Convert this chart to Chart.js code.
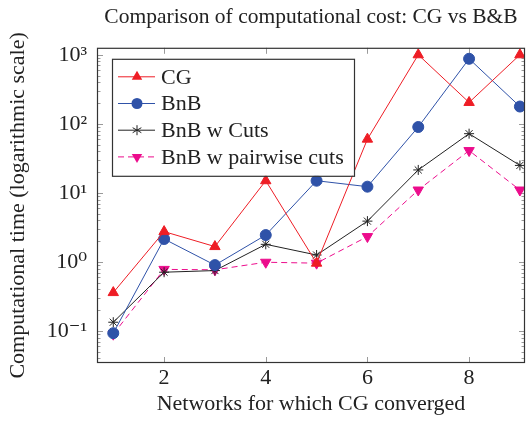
<!DOCTYPE html>
<html><head><meta charset="utf-8">
<script src="https://cdn.jsdelivr.net/npm/chart.js@4/dist/chart.umd.min.js"></script>
<style>html,body{margin:0;padding:0;background:#fff;overflow:hidden}</style>
</head><body>
<canvas id="c" width="532" height="424"></canvas>
<script>
const networks = [1, 2, 3, 4, 5, 6, 7, 8, 9];
const cg = [0.36, 2.75, 1.67, 15, 0.96, 60, 1000, 204, 1000];
const bnb = [0.093, 2.15, 0.9, 2.45, 15, 12.3, 90, 875, 178];
const bnbCuts = [0.134, 0.71, 0.75, 1.8, 1.26, 3.9, 21.5, 72, 25];
const bnbPairwise = [0.09, 0.78, 0.77, 0.99, 0.96, 2.33, 11, 41, 11];
const xTicks = [2, 4, 6, 8];
const yDecades = [-1, 0, 1, 2, 3];
const yTickLabels = {'-1': '10\u207B\u00B9', '0': '10\u2070', '1': '10\u00B9', '2': '10\u00B2', '3': '10\u00B3'};

const FONT = "'Liberation Serif', 'DejaVu Serif', serif";
const RED = '#ee1d25', BLUE = '#2f52a8', BLACK = '#222222', MAG = '#ec0c8c';

function pts(arr) { return networks.map((x, i) => ({x: x, y: arr[i]})); }

const series = [
  {label: 'CG', data: pts(cg), borderColor: RED, backgroundColor: RED, pointStyle: 'triangle', pointRadius: 6, pointRotation: 0, borderDash: []},
  {label: 'BnB', data: pts(bnb), borderColor: BLUE, backgroundColor: BLUE, pointStyle: 'circle', pointRadius: 5.5, pointRotation: 0, borderDash: []},
  {label: 'BnB w Cuts', data: pts(bnbCuts), borderColor: BLACK, backgroundColor: BLACK, pointStyle: 'star', pointRadius: 5, pointRotation: 0, borderDash: []},
  {label: 'BnB w pairwise cuts', data: pts(bnbPairwise), borderColor: MAG, backgroundColor: MAG, pointStyle: 'triangle', pointRadius: 6, pointRotation: 180, borderDash: [6, 4]}
];

function drawMarker(ctx, ds, x, y) {
  ctx.save();
  ctx.fillStyle = ds.backgroundColor; ctx.strokeStyle = ds.borderColor; ctx.lineWidth = 1; ctx.setLineDash([]);
  const r = ds.pointRadius;
  ctx.beginPath();
  if (ds.pointStyle === 'circle') { ctx.arc(x, y, r, 0, Math.PI * 2); ctx.fill(); }
  else if (ds.pointStyle === 'triangle') {
    const s = ds.pointRotation === 180 ? -1 : 1;
    ctx.moveTo(x, y - s * r); ctx.lineTo(x + r * 0.87, y + s * r * 0.5); ctx.lineTo(x - r * 0.87, y + s * r * 0.5); ctx.closePath(); ctx.fill();
  } else {
    for (let k = 0; k < 3; k++) { const a = Math.PI / 2 + k * Math.PI / 3; ctx.moveTo(x + r * Math.cos(a), y + r * Math.sin(a)); ctx.lineTo(x - r * Math.cos(a), y - r * Math.sin(a)); }
    ctx.stroke();
  }
  ctx.restore();
}

const framePlugin = {
  id: 'frame',
  beforeDatasetsDraw(chart) {
    const {ctx, chartArea: a, scales} = chart;
    ctx.save();
    ctx.strokeStyle = '#9a9a9a'; ctx.lineWidth = 1;
    ctx.beginPath();
    xTicks.forEach(v => { const px = Math.round(scales.x.getPixelForValue(v)) + 0.5; ctx.moveTo(px, a.bottom); ctx.lineTo(px, a.bottom - 6); ctx.moveTo(px, a.top); ctx.lineTo(px, a.top + 6); });
    for (let e = -2; e <= 3; e++) {
      for (let m = 1; m <= 9; m++) {
        const v = m * Math.pow(10, e);
        const py = scales.y.getPixelForValue(v);
        if (py < a.top || py > a.bottom) continue;
        const len = m === 1 ? 6 : 3.5; const yy = Math.round(py) + 0.5;
        ctx.moveTo(a.left, yy); ctx.lineTo(a.left + len, yy); ctx.moveTo(a.right, yy); ctx.lineTo(a.right - len, yy);
      }
    }
    ctx.stroke();
    ctx.restore();
  },
  afterDraw(chart) {
    const {ctx, chartArea: a} = chart;
    ctx.save();
    ctx.strokeStyle = '#333'; ctx.lineWidth = 1.2;
    ctx.strokeRect(a.left + 0.5, a.top + 0.5, a.right - a.left - 1, a.bottom - a.top - 1);
    // legend
    const lx = a.left + 15, ly = a.top + 11, lw = 242, lh = 117;
    ctx.fillStyle = '#fff'; ctx.fillRect(lx, ly, lw, lh);
    ctx.strokeStyle = '#333'; ctx.lineWidth = 1.2; ctx.strokeRect(lx + 0.5, ly + 0.5, lw, lh);
    ctx.font = '22px ' + FONT; ctx.textBaseline = 'middle'; ctx.fillStyle = '#222';
    chart.data.datasets.forEach((ds, i) => {
      const cy = ly + 18 + i * 26.7;
      ctx.save(); ctx.strokeStyle = ds.borderColor; ctx.lineWidth = 1; ctx.setLineDash(ds.borderDash || []);
      ctx.beginPath(); ctx.moveTo(lx + 6, cy); ctx.lineTo(lx + 43, cy); ctx.stroke(); ctx.restore();
      drawMarker(ctx, ds, lx + 25, cy);
      ctx.fillStyle = '#222'; ctx.fillText(ds.label, lx + 49, cy + 1);
    });
    ctx.restore();
  }
};

new Chart(document.getElementById('c'), {
  type: 'line',
  data: {datasets: series.map(s => Object.assign({borderWidth: 1, pointBorderWidth: 1, tension: 0, fill: false, pointHoverRadius: 6}, s))},
  options: {
    responsive: false, animation: false,
    layout: {padding: {left: 0, right: 1, top: 0, bottom: 0}},
    plugins: {
      legend: {display: false}, tooltip: {enabled: false},
      title: {display: true, fullSize: false, text: 'Comparison of computational cost: CG vs B&B', color: '#222', font: {family: FONT, size: 21.5, weight: 'normal'}, padding: {top: 4, bottom: 18}}
    },
    scales: {
      x: {
        type: 'linear', min: 0.68, max: 9.1,
        afterBuildTicks: s => { s.ticks = xTicks.map(v => ({value: v})); },
        afterFit: s => { s.height = 61; },
        grid: {display: false, drawTicks: false, tickLength: 0}, border: {display: false},
        ticks: {color: '#222', font: {family: FONT, size: 22}, padding: 2, maxRotation: 0},
        title: {display: true, text: 'Networks for which CG converged', color: '#222', font: {family: FONT, size: 22}, padding: {top: 0, bottom: 7}}
      },
      y: {
        type: 'logarithmic', min: 0.0344, max: 1262,
        afterBuildTicks: s => { s.ticks = yDecades.map(e => ({value: Math.pow(10, e)})); },
        afterFit: s => { s.width = 97; },
        grid: {display: false, drawTicks: false, tickLength: 0}, border: {display: false},
        ticks: {color: '#222', font: {family: FONT, size: 22}, padding: 10, callback: v => yTickLabels[String(Math.round(Math.log10(v)))]},
        title: {display: true, text: 'Computational time (logarithmic scale)', color: '#222', font: {family: FONT, size: 22}, padding: 5}
      }
    }
  },
  plugins: [framePlugin]
});
</script>
</body></html>
